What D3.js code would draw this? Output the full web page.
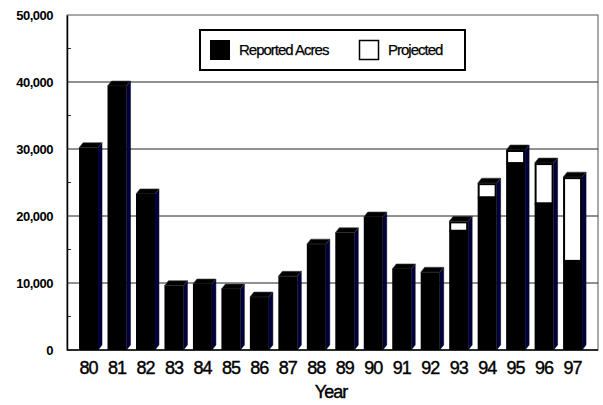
<!DOCTYPE html>
<html><head><meta charset="utf-8">
<script src="https://cdn.jsdelivr.net/npm/d3@7"></script>
<style>body{margin:0;background:#fff}svg{display:block}text{font-family:"Liberation Sans",Arial,sans-serif}</style>
</head><body>
<script>
const years = ["80","81","82","83","84","85","86","87","88","89","90","91","92","93","94","95","96","97"];
const reported = [30200,39400,23300,9600,9850,9100,7900,11000,15800,17500,19850,12100,11600,17800,22800,27900,21900,13300];
const totals   = [30200,39400,23300,9600,9850,9100,7900,11000,15800,17500,19850,12100,11600,19200,24900,29850,27900,25800];
const yTicks = [0,10000,20000,30000,40000,50000];
const yMinor = [5000,15000,25000,35000,45000];

const W=603,H=405, pL=67, pR=598, pT=15, pB=350, dx=4, dy=5;
const svg=d3.select("body").append("svg").attr("width",W).attr("height",H);
const y=d3.scaleLinear().domain([0,50000]).range([pB,pT]);
const x=d3.scaleBand().domain(years).range([74.3,586.8]).paddingInner(1/3).paddingOuter(1/6);

// frame
svg.append("rect").attr("x",pL).attr("y",pT).attr("width",pR-pL).attr("height",pB-pT)
  .attr("fill","none").attr("stroke","#555").attr("stroke-width",1);
// gridlines
svg.selectAll(".grid").data(yTicks.slice(1,5)).enter().append("line")
  .attr("x1",pL).attr("x2",pR).attr("y1",d=>y(d)).attr("y2",d=>y(d))
  .attr("stroke","#222").attr("stroke-width",1);
// minor ticks
svg.selectAll(".minor").data(yMinor).enter().append("line")
  .attr("x1",pL).attr("x2",pL+4).attr("y1",d=>y(d)).attr("y2",d=>y(d))
  .attr("stroke","#333").attr("stroke-width",1);
// axes
const yAxis=d3.axisLeft(y).tickValues(yTicks).tickSize(0).tickPadding(14).tickFormat(d3.format(","));
const ga=svg.append("g").attr("transform",`translate(${pL},0)`).call(yAxis);
ga.select(".domain").attr("stroke","#000").attr("stroke-width",1.5);
ga.selectAll("text").attr("font-size",13).attr("font-weight","bold").attr("letter-spacing","-0.5px")
  .attr("font-family","Liberation Sans, Arial, sans-serif").attr("fill","#000");

const xAxis=d3.axisBottom(x).tickSize(0).tickPadding(11);
const gx=svg.append("g").attr("transform",`translate(0,${pB})`).call(xAxis);
gx.select(".domain").remove();
gx.selectAll("text").attr("font-size",18).attr("letter-spacing","-1px")
  .attr("font-family","Liberation Sans, Arial, sans-serif").attr("fill","#000")
  .attr("stroke","#000").attr("stroke-width",0.4);
svg.append("line").attr("x1",pL).attr("x2",pR).attr("y1",pB).attr("y2",pB).attr("stroke","#000").attr("stroke-width",1.5);

// bars
const bw=x.bandwidth();
const g=svg.append("g");
years.forEach((yr,i)=>{
  const x0=x(yr), x1=x0+bw, yt=y(totals[i]), yr0=y(reported[i]);
  g.append("path").attr("d",`M${x1},${pB}L${x1+dx},${pB-dy}L${x1+dx},${yt-dy}L${x1},${yt}Z`)
    .attr("fill","#000040").attr("stroke","#000").attr("stroke-width",0.5);
  g.append("path").attr("d",`M${x0},${yt}L${x0+dx},${yt-dy}L${x1+dx},${yt-dy}L${x1},${yt}Z`)
    .attr("fill","#000").attr("stroke","#444").attr("stroke-width",0.6);
  g.append("rect").attr("x",x0).attr("y",yr0).attr("width",bw).attr("height",pB-yr0).attr("fill","#000");
  if(totals[i]>reported[i]){
    g.append("rect").attr("x",x0+1).attr("y",yt+1).attr("width",bw-2).attr("height",yr0-yt-1)
      .attr("fill","#fff").attr("stroke","#000").attr("stroke-width",2);
  }
});

// legend
svg.append("rect").attr("x",200).attr("y",30).attr("width",265).attr("height",40)
  .attr("fill","#fff").attr("stroke","#000").attr("stroke-width",2);
svg.append("rect").attr("x",210).attr("y",40).attr("width",20).attr("height",20).attr("fill","#000");
svg.append("rect").attr("x",359.5).attr("y",40.5).attr("width",19).attr("height",19).attr("fill","#fff").attr("stroke","#000").attr("stroke-width",1.5);
svg.append("text").attr("x",239).attr("y",55).attr("font-size",15).attr("letter-spacing","-1px").attr("stroke","#000").attr("stroke-width",0.25).text("Reported Acres");
svg.append("text").attr("x",388).attr("y",55).attr("font-size",15).attr("letter-spacing","-1px").attr("stroke","#000").attr("stroke-width",0.25).text("Projected");

svg.append("text").attr("x",331).attr("y",398).attr("text-anchor","middle").attr("font-size",18).attr("letter-spacing","-1px").attr("stroke","#000").attr("stroke-width",0.4).text("Year");
</script>
</body></html>
